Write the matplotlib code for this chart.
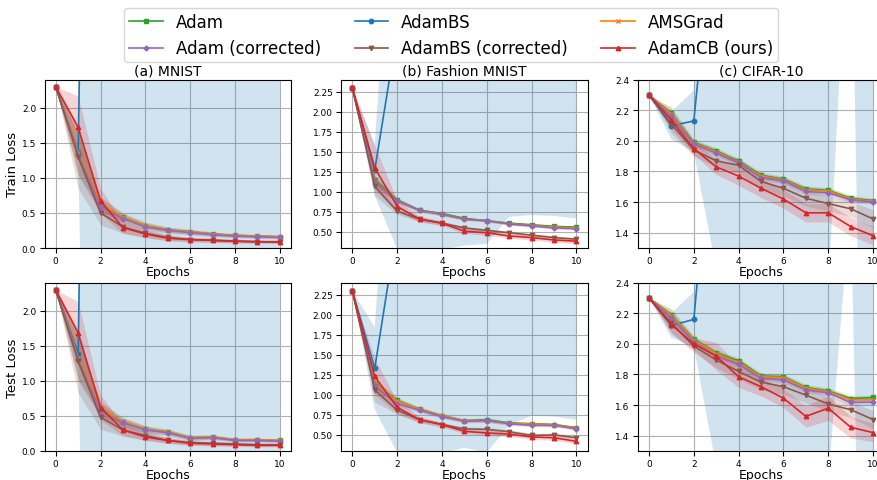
import matplotlib
matplotlib.use("Agg")
import matplotlib.pyplot as plt
import numpy as np

epochs = list(range(11))

# plot order
methods = ["Adam", "AdamBS", "AMSGrad", "Adam (corrected)", "AdamBS (corrected)", "AdamCB (ours)"]
colors = ["tab:green", "tab:blue", "tab:orange", "tab:purple", "tab:brown", "tab:red"]
markers = ["s", "o", "x", "P", "v", "^"]

titles = ["(a) MNIST", "(b) Fashion MNIST", "(c) CIFAR-10"]
row_labels = ["Train Loss", "Test Loss"]

# ---- MNIST train (means / stds), rows follow `methods`
mnist_train_mean = [
    [2.30, 1.35, 0.62, 0.44, 0.32, 0.26, 0.23, 0.20, 0.18, 0.17, 0.16],
    [2.30, 1.37, 21, 26, 24, 27, 25, 28, 26, 27, 25],
    [2.30, 1.36, 0.63, 0.44, 0.32, 0.26, 0.23, 0.20, 0.18, 0.17, 0.16],
    [2.30, 1.33, 0.59, 0.42, 0.30, 0.25, 0.22, 0.19, 0.17, 0.16, 0.15],
    [2.30, 1.30, 0.50, 0.30, 0.21, 0.15, 0.12, 0.11, 0.10, 0.09, 0.09],
    [2.30, 1.72, 0.67, 0.29, 0.20, 0.14, 0.12, 0.11, 0.095, 0.09, 0.085],
]
mnist_train_std = [
    [0, 0.30, 0.10, 0.06, 0.05, 0.04, 0.035, 0.03, 0.025, 0.025, 0.02],
    [0, 0.06, 35, 38, 35, 40, 37, 41, 38, 40, 37],
    [0, 0.30, 0.10, 0.06, 0.05, 0.04, 0.035, 0.03, 0.025, 0.025, 0.02],
    [0, 0.30, 0.10, 0.06, 0.05, 0.04, 0.035, 0.03, 0.025, 0.025, 0.02],
    [0, 0.45, 0.17, 0.09, 0.06, 0.04, 0.03, 0.03, 0.025, 0.02, 0.02],
    [0, 0.45, 0.18, 0.08, 0.05, 0.04, 0.03, 0.03, 0.025, 0.02, 0.02],
]
# ---- MNIST test
mnist_test_mean = [
    [2.30, 1.32, 0.60, 0.42, 0.31, 0.27, 0.19, 0.20, 0.16, 0.16, 0.15],
    [2.30, 1.38, 22, 25, 27, 24, 26, 28, 25, 27, 26],
    [2.30, 1.33, 0.60, 0.42, 0.31, 0.27, 0.19, 0.20, 0.16, 0.16, 0.15],
    [2.30, 1.30, 0.57, 0.40, 0.30, 0.26, 0.18, 0.19, 0.15, 0.15, 0.14],
    [2.30, 1.28, 0.48, 0.30, 0.22, 0.15, 0.12, 0.11, 0.10, 0.09, 0.09],
    [2.30, 1.68, 0.62, 0.30, 0.20, 0.15, 0.11, 0.10, 0.09, 0.08, 0.08],
]
mnist_test_std = [
    [0, 0.30, 0.10, 0.06, 0.05, 0.04, 0.035, 0.03, 0.025, 0.025, 0.02],
    [0, 0.06, 36, 37, 40, 36, 39, 41, 38, 40, 39],
    [0, 0.30, 0.10, 0.06, 0.05, 0.04, 0.035, 0.03, 0.025, 0.025, 0.02],
    [0, 0.30, 0.10, 0.06, 0.05, 0.04, 0.035, 0.03, 0.025, 0.025, 0.02],
    [0, 0.45, 0.17, 0.09, 0.06, 0.04, 0.03, 0.03, 0.025, 0.02, 0.02],
    [0, 0.45, 0.18, 0.08, 0.05, 0.04, 0.03, 0.03, 0.025, 0.02, 0.02],
]
# ---- Fashion MNIST train
fmnist_train_mean = [
    [2.30, 1.15, 0.90, 0.77, 0.73, 0.67, 0.64, 0.61, 0.59, 0.57, 0.56],
    [2.30, 1.27, 3.0, 4.6, 5.9, 7.2, 8.1, 8.8, 9.4, 9.9, 10.3],
    [2.30, 1.13, 0.89, 0.77, 0.72, 0.66, 0.64, 0.60, 0.58, 0.56, 0.55],
    [2.30, 1.12, 0.89, 0.77, 0.72, 0.66, 0.64, 0.60, 0.575, 0.55, 0.54],
    [2.30, 1.07, 0.76, 0.66, 0.61, 0.55, 0.52, 0.49, 0.46, 0.43, 0.41],
    [2.30, 1.30, 0.82, 0.66, 0.61, 0.51, 0.49, 0.45, 0.43, 0.40, 0.385],
]
fmnist_train_std = [
    [0, 0.06, 0.03, 0.02, 0.02, 0.015, 0.015, 0.015, 0.015, 0.015, 0.015],
    [0, 0.32, 2.71, 4.4, 5.62, 6.87, 7.75, 8.11, 8.69, 9.2, 9.63],
    [0, 0.06, 0.03, 0.02, 0.02, 0.015, 0.015, 0.015, 0.015, 0.015, 0.015],
    [0, 0.06, 0.03, 0.02, 0.02, 0.015, 0.015, 0.015, 0.015, 0.015, 0.015],
    [0, 0.12, 0.04, 0.03, 0.025, 0.02, 0.02, 0.02, 0.02, 0.02, 0.02],
    [0, 0.28, 0.07, 0.035, 0.03, 0.03, 0.03, 0.03, 0.03, 0.03, 0.03],
]
# ---- Fashion MNIST test
fmnist_test_mean = [
    [2.30, 1.13, 0.93, 0.82, 0.74, 0.68, 0.69, 0.65, 0.64, 0.63, 0.59],
    [2.30, 1.33, 3.1, 4.8, 6.0, 7.1, 7.9, 8.6, 9.2, 9.7, 10.1],
    [2.30, 1.13, 0.92, 0.82, 0.74, 0.68, 0.68, 0.645, 0.635, 0.625, 0.585],
    [2.30, 1.11, 0.89, 0.81, 0.73, 0.67, 0.68, 0.64, 0.62, 0.62, 0.575],
    [2.30, 1.06, 0.81, 0.69, 0.63, 0.575, 0.57, 0.54, 0.495, 0.50, 0.465],
    [2.30, 1.23, 0.845, 0.69, 0.63, 0.545, 0.525, 0.51, 0.475, 0.465, 0.42],
]
fmnist_test_std = [
    [0, 0.06, 0.04, 0.03, 0.025, 0.02, 0.025, 0.02, 0.02, 0.02, 0.02],
    [0, 0.51, 2.82, 4.6, 5.73, 6.76, 7.62, 7.98, 8.46, 8.97, 9.41],
    [0, 0.06, 0.04, 0.03, 0.025, 0.02, 0.025, 0.02, 0.02, 0.02, 0.02],
    [0, 0.06, 0.04, 0.03, 0.025, 0.02, 0.025, 0.02, 0.02, 0.02, 0.02],
    [0, 0.15, 0.05, 0.03, 0.025, 0.025, 0.025, 0.025, 0.025, 0.025, 0.025],
    [0, 0.22, 0.08, 0.04, 0.03, 0.03, 0.03, 0.03, 0.03, 0.03, 0.03],
]
# ---- CIFAR-10 train
cifar_train_mean = [
    [2.30, 2.18, 1.99, 1.935, 1.866, 1.775, 1.75, 1.686, 1.677, 1.625, 1.61],
    [2.30, 2.10, 2.13, 3.6, 4.4, 5.1, 5.6, 6.0, 6.3, 6.0, 5.0],
    [2.30, 2.175, 1.985, 1.93, 1.86, 1.77, 1.745, 1.68, 1.672, 1.62, 1.605],
    [2.30, 2.16, 1.98, 1.92, 1.857, 1.76, 1.74, 1.67, 1.66, 1.615, 1.60],
    [2.30, 2.11, 1.94, 1.87, 1.84, 1.735, 1.69, 1.625, 1.59, 1.556, 1.49],
    [2.30, 2.135, 1.95, 1.83, 1.77, 1.69, 1.62, 1.53, 1.53, 1.44, 1.38],
]
cifar_train_std = [
    [0, 0.04, 0.02, 0.02, 0.02, 0.02, 0.02, 0.02, 0.02, 0.02, 0.015],
    [0, 0.09, 0.20, 2.44, 3.28, 4.05, 4.6, 5.02, 5.27, 2.2, 9.4],
    [0, 0.04, 0.02, 0.02, 0.02, 0.02, 0.02, 0.02, 0.02, 0.02, 0.015],
    [0, 0.04, 0.02, 0.02, 0.02, 0.02, 0.02, 0.02, 0.02, 0.02, 0.015],
    [0, 0.06, 0.04, 0.04, 0.05, 0.05, 0.05, 0.05, 0.05, 0.05, 0.06],
    [0, 0.06, 0.04, 0.05, 0.06, 0.06, 0.06, 0.06, 0.06, 0.06, 0.06],
]
# ---- CIFAR-10 test
cifar_test_mean = [
    [2.30, 2.19, 2.03, 1.94, 1.89, 1.79, 1.785, 1.715, 1.693, 1.643, 1.65],
    [2.30, 2.12, 2.16, 3.76, 4.5, 5.2, 5.7, 6.1, 6.4, 5.5, 4.5],
    [2.30, 2.185, 2.025, 1.935, 1.88, 1.785, 1.78, 1.71, 1.688, 1.635, 1.635],
    [2.30, 2.17, 2.015, 1.92, 1.867, 1.775, 1.765, 1.70, 1.68, 1.617, 1.62],
    [2.30, 2.135, 1.985, 1.895, 1.82, 1.75, 1.72, 1.665, 1.607, 1.57, 1.505],
    [2.30, 2.125, 2.00, 1.92, 1.785, 1.72, 1.645, 1.526, 1.58, 1.455, 1.42],
]
cifar_test_std = [
    [0, 0.04, 0.02, 0.02, 0.02, 0.02, 0.02, 0.02, 0.02, 0.02, 0.015],
    [0, 0.08, 0.18, 2.56, 3.35, 4.12, 4.68, 5.1, 5.29, 2.55, 8.5],
    [0, 0.04, 0.02, 0.02, 0.02, 0.02, 0.02, 0.02, 0.02, 0.02, 0.015],
    [0, 0.04, 0.02, 0.02, 0.02, 0.02, 0.02, 0.02, 0.02, 0.02, 0.015],
    [0, 0.06, 0.04, 0.05, 0.05, 0.05, 0.05, 0.05, 0.05, 0.05, 0.06],
    [0, 0.06, 0.04, 0.09, 0.07, 0.06, 0.06, 0.07, 0.08, 0.07, 0.06],
]

ylims = [(0, 2.4), (0.3, 2.4), (1.3, 2.4)]
yticks = [
    [0.0, 0.5, 1.0, 1.5, 2.0],
    [0.50, 0.75, 1.00, 1.25, 1.50, 1.75, 2.00, 2.25],
    [1.4, 1.6, 1.8, 2.0, 2.2, 2.4],
]
yfmt = ["{:.1f}", "{:.2f}", "{:.1f}"]

panels = [
    [(mnist_train_mean, mnist_train_std), (fmnist_train_mean, fmnist_train_std), (cifar_train_mean, cifar_train_std)],
    [(mnist_test_mean, mnist_test_std), (fmnist_test_mean, fmnist_test_std), (cifar_test_mean, cifar_test_std)],
]

fig = plt.figure(figsize=(8.78, 4.81), dpi=100)
lefts = [0.0507, 0.3885, 0.7264]
bottoms = [0.4823, 0.0603]
W, H = 0.2808, 0.3500

handles = {}
for r in range(2):
    for c in range(3):
        ax = fig.add_axes([lefts[c], bottoms[r], W, H])
        means, stds = panels[r][c]
        x = np.array(epochs)
        for k, name in enumerate(methods):
            m = np.array(means[k], dtype=float)
            s = np.array(stds[k], dtype=float)
            ln, = ax.plot(x, m, color=colors[k], marker=markers[k], markersize=3.2,
                          linewidth=1.2, label=name)
            ax.fill_between(x, m - s, m + s, color=colors[k], alpha=0.2, linewidth=0)
            handles[name] = ln
        ax.set_xlim(-0.5, 10.5)
        ax.set_ylim(*ylims[c])
        ax.set_xticks([0, 2, 4, 6, 8, 10])
        ax.set_yticks(yticks[c])
        ax.set_yticklabels([yfmt[c].format(v) for v in yticks[c]])
        ax.tick_params(labelsize=6.5, pad=2.5)
        ax.grid(True, color="#b0b0b0", linewidth=0.8)
        ax.set_axisbelow(True)
        ax.set_xlabel("Epochs", fontsize=9, labelpad=0)
        if c == 0:
            ax.set_ylabel(row_labels[r], fontsize=9.5, labelpad=2)
        if r == 0:
            ax.set_title(titles[c], fontsize=10, pad=4)

legend_order = ["Adam", "Adam (corrected)", "AdamBS", "AdamBS (corrected)", "AMSGrad", "AdamCB (ours)"]
fig.legend([handles[n] for n in legend_order], legend_order, loc="upper center",
           bbox_to_anchor=(0.514, 0.988), ncol=3, fontsize=12, columnspacing=2.0,
           handlelength=2.0, borderaxespad=0.2, labelspacing=0.5, borderpad=0.3)

fig.savefig("out.png", dpi=100)
